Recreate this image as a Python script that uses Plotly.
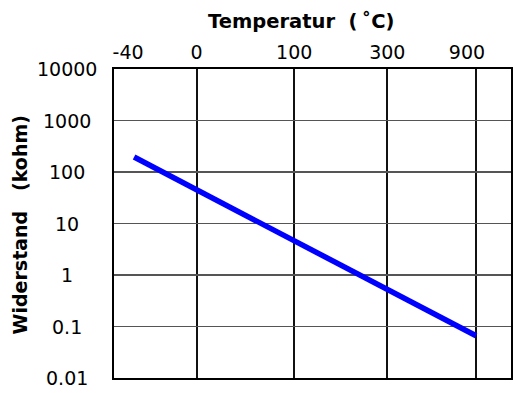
import numpy as np
import plotly.graph_objects as go

# Data
temps_c = [-40, 900]            # line end points, temperature (°C)
resist_kohm = [195, 0.066]      # resistance (kohm)
x_tick_temps = [-40, 0, 100, 300, 900]
x_tick_labels = ["-40\u00a0\u00a0", "0", "100", "300", "900\u00a0\u00a0\u00a0"]
x_grid_temps = [0, 100, 300, 900]
y_tick_vals = [0.01, 0.1, 1, 10, 100, 1000, 10000]
y_tick_labels = ["0.01", "0.1", "1", "10", "100", "1000", "10000"]


def tx(t):
    # reciprocal absolute temperature scale
    return -1000.0 / (np.asarray(t, dtype=float) + 273.15)


FONT = "DejaVu Sans"

fig = go.Figure()
fig.add_trace(go.Scatter(
    x=tx(temps_c), y=resist_kohm, mode="lines",
    line=dict(color="#0000FF", width=5.5), showlegend=False,
    hoverinfo="skip",
))

fig.update_layout(
    width=517, height=393,
    margin=dict(l=114, r=4, t=69, b=15),
    paper_bgcolor="white", plot_bgcolor="white",
    font=dict(family=FONT, size=19, color="black"),
    xaxis=dict(
        side="top", range=[-4.491, -0.501],
        tickvals=list(tx(x_tick_temps)), ticktext=x_tick_labels,
        showgrid=False,
        minor=dict(tickmode="array", tickvals=list(tx(x_grid_temps)),
                   showgrid=True, gridcolor="#111111", gridwidth=2, ticks=""),
        showline=True, linecolor="black", linewidth=2, mirror=True,
        ticks="", ticklen=0,
        tickfont=dict(family=FONT, size=19, color="black"),
        zeroline=False, fixedrange=True,
    ),
    yaxis=dict(
        type="log", range=[-2, 4],
        tickvals=y_tick_vals, showticklabels=False,
        showgrid=True, gridcolor="#555555", gridwidth=1.5,
        showline=True, linecolor="black", linewidth=2, mirror=True,
        ticks="", zeroline=False, fixedrange=True,
    ),
)

annotations = []
for v, lab in zip(y_tick_vals, y_tick_labels):
    annotations.append(dict(
        x=(67 - 114) / 399, xref="paper", y=np.log10(v), yref="y",
        text=lab, showarrow=False, xanchor="center", yanchor="middle",
        font=dict(family=FONT, size=19, color="black"),
    ))
annotations.append(dict(
    x=(302 - 114) / 399, xref="paper", y=(378 - 22) / 309, yref="paper",
    text="<b>Temperatur\u00a0\u00a0(\u2009˚C)</b>", showarrow=False,
    xanchor="center", yanchor="middle",
    font=dict(family=FONT, size=19.5, color="black"),
))
annotations.append(dict(
    x=(20 - 114) / 399, xref="paper", y=(378 - 225) / 309, yref="paper",
    text="<b>Widerstand\u00a0\u00a0\u00a0(kohm)</b>", showarrow=False, textangle=-90,
    xanchor="center", yanchor="middle",
    font=dict(family=FONT, size=19, color="black"),
))
fig.update_layout(annotations=annotations)

fig.write_html(
    "out.html",
    config={"displayModeBar": False, "staticPlot": True},
    post_script="document.body.style.margin='0';document.body.style.overflow='hidden';",
)
